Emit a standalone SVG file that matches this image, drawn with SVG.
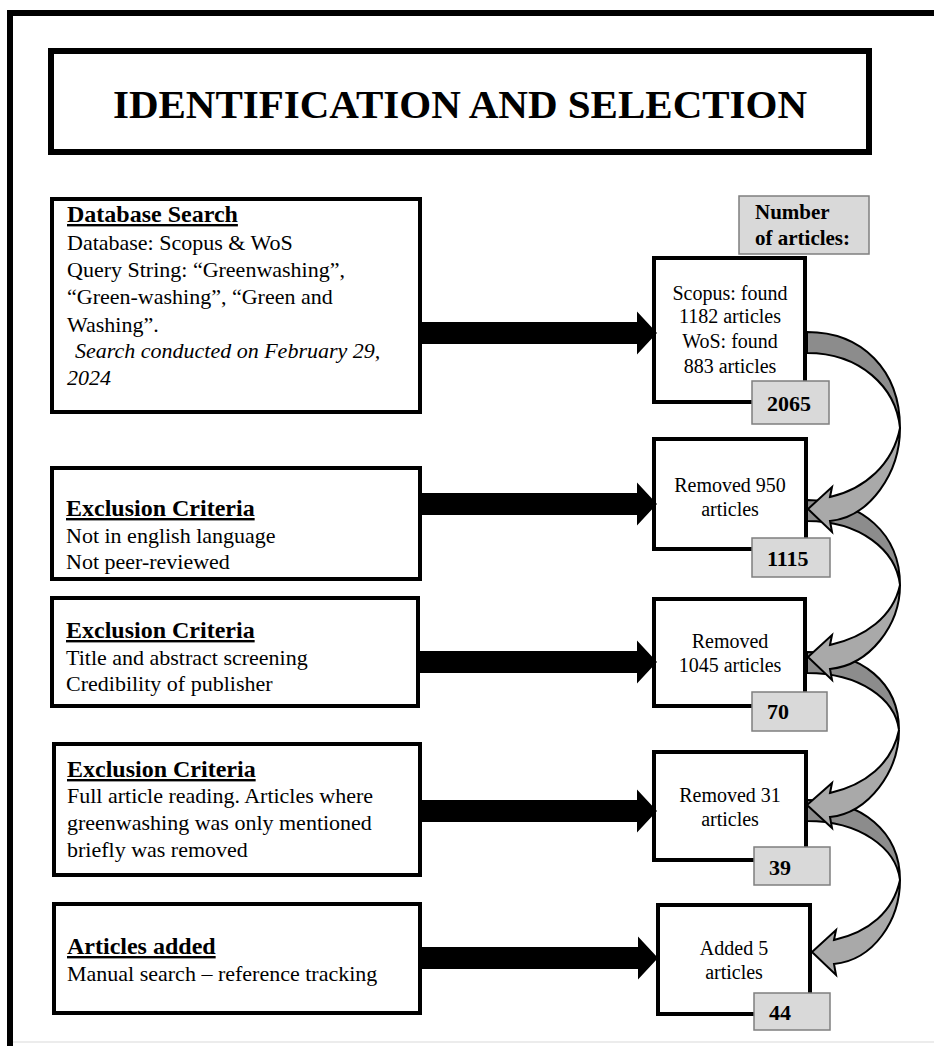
<svg xmlns="http://www.w3.org/2000/svg" width="934" height="1046" viewBox="0 0 934 1046">
  <style>
    text { font-family: "Liberation Serif", "Times New Roman", serif; fill: #000; }
    .title { font-size: 41px; font-weight: bold; text-anchor: middle; }
    .head { font-size: 24px; font-weight: bold; text-decoration: underline; }
    .body { font-size: 22px; }
    .it { font-style: italic; }
    .box { fill: #fff; stroke: #000; stroke-width: 4; }
    .tbox { fill: #fff; stroke: #000; stroke-width: 6; }
    .cnt { fill: #d9d9d9; stroke: #7f7f7f; stroke-width: 1.5; }
    .num { font-size: 22px; font-weight: bold; }
    .lbl { font-size: 21px; font-weight: bold; }
    .res { font-size: 20px; text-anchor: middle; }
    .back { fill: #8c8c8c; stroke: #000; stroke-width: 2; stroke-linejoin: round; }
    .front { fill: #a9a9a9; stroke: #000; stroke-width: 2; stroke-linejoin: miter; }
    .arrow { fill: #000; }
  </style>

  <rect width="934" height="1046" fill="#fff"/>

  <!-- page frame -->
  <path d="M 10 1046 V 13 H 934" fill="none" stroke="#000" stroke-width="6"/>
  <line x1="13" y1="1042" x2="934" y2="1042" stroke="#ececec" stroke-width="2"/>

  <!-- title -->
  <g id="title">
    <rect class="tbox" x="51" y="51" width="818" height="101"/>
    <text class="title" x="460" y="118">IDENTIFICATION AND SELECTION</text>
  </g>

  <!-- left column: criteria -->
  <g id="db-search">
    <rect class="box" x="52" y="199" width="368" height="213"/>
    <text class="head" x="67" y="222">Database Search</text>
    <text class="body" x="67" y="250">Database: Scopus &amp; WoS</text>
    <text class="body" x="67" y="277">Query String: “Greenwashing”,</text>
    <text class="body" x="67" y="304">“Green-washing”, “Green and</text>
    <text class="body" x="67" y="332">Washing”.</text>
    <text class="body it" x="75" y="358">Search conducted on February 29,</text>
    <text class="body it" x="67" y="385">2024</text>
  </g>

  <g id="exclusion-1">
    <rect class="box" x="52" y="468" width="368" height="111"/>
    <text class="head" x="66" y="516">Exclusion Criteria</text>
    <text class="body" x="66" y="543">Not in english language</text>
    <text class="body" x="66" y="569">Not peer-reviewed</text>
  </g>

  <g id="exclusion-2">
    <rect class="box" x="52" y="598" width="366" height="108"/>
    <text class="head" x="66" y="638">Exclusion Criteria</text>
    <text class="body" x="66" y="665">Title and abstract screening</text>
    <text class="body" x="66" y="691">Credibility of publisher</text>
  </g>

  <g id="exclusion-3">
    <rect class="box" x="54" y="744" width="366" height="131"/>
    <text class="head" x="67" y="777">Exclusion Criteria</text>
    <text class="body" x="67" y="803">Full article reading. Articles where</text>
    <text class="body" x="67" y="830">greenwashing was only mentioned</text>
    <text class="body" x="67" y="857">briefly was removed</text>
  </g>

  <g id="articles-added">
    <rect class="box" x="54" y="904" width="366" height="109"/>
    <text class="head" x="67" y="954">Articles added</text>
    <text class="body" x="67" y="981">Manual search – reference tracking</text>
  </g>

  <!-- right column: counts -->
  <g id="count-header">
    <rect class="cnt" x="739" y="196" width="130" height="58"/>
    <text class="lbl" x="755" y="219">Number</text>
    <text class="lbl" x="755" y="245">of articles:</text>
  </g>

  <g id="found">
    <rect class="box" x="654" y="258" width="151" height="144"/>
    <text class="res" x="730" y="300">Scopus: found</text>
    <text class="res" x="730" y="323">1182 articles</text>
    <text class="res" x="730" y="348">WoS: found</text>
    <text class="res" x="730" y="373">883 articles</text>
  </g>

  <g id="removed-950">
    <rect class="box" x="654" y="439" width="152" height="110"/>
    <text class="res" x="730" y="492">Removed 950</text>
    <text class="res" x="730" y="516">articles</text>
  </g>

  <g id="removed-1045">
    <rect class="box" x="654" y="599" width="151" height="107"/>
    <text class="res" x="730" y="648">Removed</text>
    <text class="res" x="730" y="672">1045 articles</text>
  </g>

  <g id="removed-31">
    <rect class="box" x="654" y="752" width="152" height="108"/>
    <text class="res" x="730" y="802">Removed 31</text>
    <text class="res" x="730" y="826">articles</text>
  </g>

  <g id="added-5">
    <rect class="box" x="658" y="905" width="152" height="109"/>
    <text class="res" x="734" y="955">Added 5</text>
    <text class="res" x="734" y="979">articles</text>
  </g>

  <!-- connectors -->
  <g id="connectors">
    <!-- straight block arrows, criteria to counts -->
    <path class="arrow" d="M 422 322 H 637 V 311.5 L 657 333 L 637 354.5 V 344 H 422 Z"/>
    <path class="arrow" d="M 422 493 H 637 V 482.5 L 657 504 L 637 525.5 V 515 H 422 Z"/>
    <path class="arrow" d="M 420 651 H 637 V 640.5 L 657 662 L 637 683.5 V 673 H 420 Z"/>
    <path class="arrow" d="M 422 800 H 637 V 789.5 L 657 811 L 637 832.5 V 822 H 422 Z"/>
    <path class="arrow" d="M 422 947 H 638 V 936.5 L 658 958 L 638 979.5 V 969 H 422 Z"/>

    <!-- curved ribbon arrows, back faces -->
    <path class="back" d="M 807 332 C 862 332 900 370 900 428 C 896 387 860 353 807 353 Z"/>
    <path class="back" d="M 807 500 C 862 500 900 534 900 585 C 896 550 860 521 807 521 Z"/>
    <path class="back" d="M 807 652 C 862 652 899 683 899 730 C 895 699 860 673 807 673 Z"/>
    <path class="back" d="M 807 800 C 862 800 900 832 900 880 C 896 848 860 821 807 821 Z"/>

    <!-- curved ribbon arrows, front faces with heads -->
    <path class="front" d="M 900 428 C 900 473 870 517 830 521 L 832 532 L 808 509 L 832 487 L 830 497 C 865 489 893 464 900 428 Z"/>
    <path class="front" d="M 900 585 C 900 625 870 665 830 669 L 832 680 L 808 657 L 832 635 L 830 645 C 865 637 893 617 900 585 Z"/>
    <path class="front" d="M 899 730 C 899 771 869 813 830 817 L 832 828 L 807 805 L 832 783 L 830 793 C 865 785 892 764 899 730 Z"/>
    <path class="front" d="M 900 880 C 900 920 874 960 834 964 L 836 975 L 812 952 L 836 930 L 834 940 C 869 932 893 912 900 880 Z"/>
  </g>

  <!-- running totals -->
  <g id="total-2065">
    <rect class="cnt" x="752" y="381" width="77" height="43"/>
    <text class="num" x="767" y="411">2065</text>
  </g>
  <g id="total-1115">
    <rect class="cnt" x="752" y="538" width="78" height="39"/>
    <text class="num" x="767" y="566">1115</text>
  </g>
  <g id="total-70">
    <rect class="cnt" x="752" y="692" width="75" height="39"/>
    <text class="num" x="767" y="719">70</text>
  </g>
  <g id="total-39">
    <rect class="cnt" x="754" y="847" width="76" height="38"/>
    <text class="num" x="769" y="875">39</text>
  </g>
  <g id="total-44">
    <rect class="cnt" x="754" y="993" width="76" height="37"/>
    <text class="num" x="769" y="1020">44</text>
  </g>
</svg>
